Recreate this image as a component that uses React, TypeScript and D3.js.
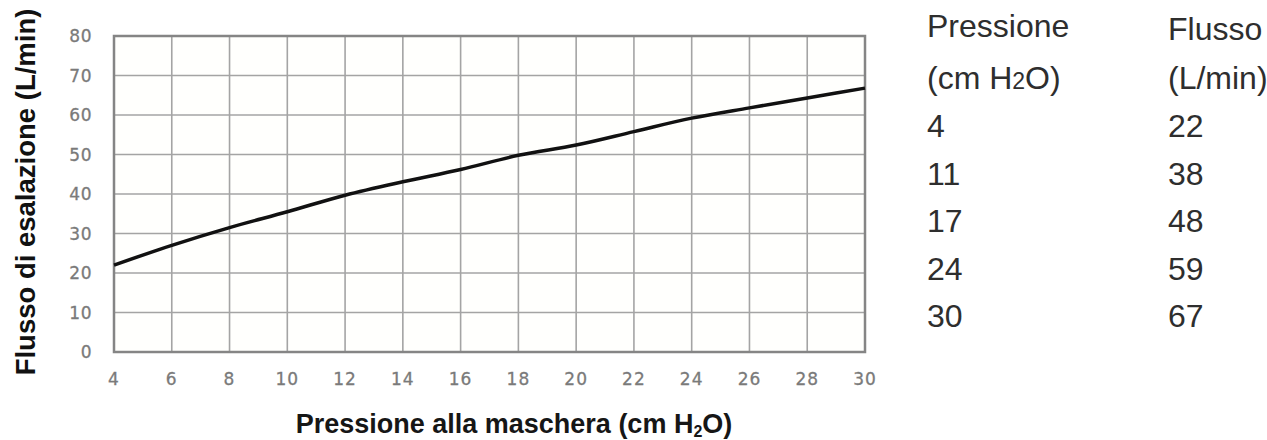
import React from 'react';
import * as d3 from 'd3';

// curve, every 2 cm H2O
const pressure = [4, 6, 8, 10, 12, 14, 16, 18, 20, 22, 24, 26, 28, 30];
const flow = [22, 27, 31.5, 35.5, 39.7, 43.1, 46.2, 49.8, 52.4, 55.8, 59.2, 61.8, 64.3, 66.8];

const xTicks = [4, 6, 8, 10, 12, 14, 16, 18, 20, 22, 24, 26, 28, 30];
const yTicks = [0, 10, 20, 30, 40, 50, 60, 70, 80];

// table on the right
const tablePressure = ['4', '11', '17', '24', '30'];
const tableFlow = ['22', '38', '48', '59', '67'];

const W = 1267;
const H = 440;
const plot = { left: 114, right: 865, top: 36, bottom: 352 };

const App: React.FC = () => {
  const x = d3.scaleLinear().domain([4, 30]).range([plot.left, plot.right]);
  const y = d3.scaleLinear().domain([0, 80]).range([plot.bottom, plot.top]);

  const line = d3.line<number>()
    .x((_, i) => x(pressure[i]))
    .y(d => y(d))
    .curve(d3.curveMonotoneX);

  const tickFont = '"DejaVu Sans", sans-serif';
  const titleFont = '"Liberation Sans", Arial, sans-serif';
  const tableFont = '"Liberation Sans Narrow", "Arial Narrow", "Liberation Sans", sans-serif';

  return (
    <svg width={W} height={H} style={{ position: 'absolute', left: 0, top: 0, background: '#fff' }}>
      <rect x={plot.left} y={plot.top} width={plot.right - plot.left} height={plot.bottom - plot.top} fill="#fffffd" />
      {/* grid */}
      {xTicks.map(t => (
        <line key={'gx' + t} x1={x(t)} x2={x(t)} y1={plot.top} y2={plot.bottom} stroke="#a4a4a4" strokeWidth={1.6} />
      ))}
      {yTicks.map(t => (
        <line key={'gy' + t} x1={plot.left} x2={plot.right} y1={y(t)} y2={y(t)} stroke="#a4a4a4" strokeWidth={1.6} />
      ))}
      <rect x={plot.left} y={plot.top} width={plot.right - plot.left} height={plot.bottom - plot.top}
        fill="none" stroke="#858585" strokeWidth={2.5} />

      <path d={line(flow) ?? ''} fill="none" stroke="#111" strokeWidth={3.5} />

      {/* tick labels */}
      {yTicks.map(t => (
        <text key={'ty' + t} x={92} y={y(t)} dy="0.36em" textAnchor="end" fontFamily={tickFont}
          fontSize={17} letterSpacing={0.5} fill="#7a7a7a" stroke="#7a7a7a" strokeWidth={0.3}>{t}</text>
      ))}
      {xTicks.map(t => (
        <text key={'tx' + t} x={x(t)} y={379} dy="0.36em" textAnchor="middle" fontFamily={tickFont}
          fontSize={17} letterSpacing={1} fill="#7a7a7a" stroke="#7a7a7a" strokeWidth={0.3}>{t}</text>
      ))}

      {/* axis titles */}
      <text transform={`translate(35,192) rotate(-90)`} textAnchor="middle"
        fontFamily={titleFont} fontWeight="bold" fontSize={27.5} fill="#111">
        Flusso di esalazione (L/min)
      </text>
      <text x={514} y={433} textAnchor="middle" fontFamily={titleFont} fontWeight="bold"
        fontSize={27} fill="#161616">
        Pressione alla maschera (cm H<tspan fontSize={16} dy={4}>2</tspan><tspan dy={-4}>O)</tspan>
      </text>

      {/* table */}
      <g fontFamily={tableFont} fontSize={32} fill="#2e2e2e">
        <text x={927} y={37}>Pressione</text>
        <text x={927} y={89}>(cm H<tspan fontSize={23}>2</tspan>O)</text>
        <text x={1168} y={40}>Flusso</text>
        <text x={1168} y={89}>(L/min)</text>
        {tablePressure.map((p, i) => (
          <text key={'tp' + i} x={927} y={137 + i * 47.5}>{p}</text>
        ))}
        {tableFlow.map((f, i) => (
          <text key={'tf' + i} x={1168} y={137 + i * 47.5}>{f}</text>
        ))}
      </g>
    </svg>
  );
};

export default App;
